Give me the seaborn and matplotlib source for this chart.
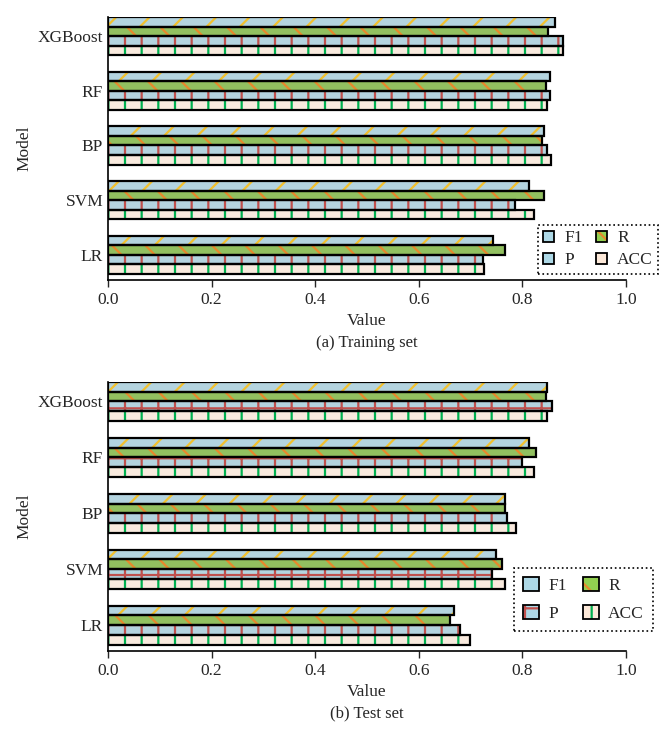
import pandas as pd
import matplotlib
matplotlib.use("Agg")
import matplotlib.pyplot as plt
from matplotlib.patches import Patch
from matplotlib.legend_handler import HandlerTuple
import seaborn as sns

# model results
models = ["XGBoost", "RF", "BP", "SVM", "LR"]
metrics = ["F1", "R", "P", "ACC"]

train_f1 = [0.862, 0.853, 0.841, 0.813, 0.743]
train_r = [0.850, 0.846, 0.837, 0.841, 0.767]
train_p = [0.878, 0.853, 0.847, 0.786, 0.723]
train_acc = [0.878, 0.848, 0.855, 0.822, 0.726]

test_f1 = [0.847, 0.812, 0.767, 0.749, 0.667]
test_r = [0.845, 0.826, 0.766, 0.760, 0.660]
test_p = [0.858, 0.799, 0.770, 0.742, 0.679]
test_acc = [0.847, 0.822, 0.787, 0.766, 0.698]

face = {"F1": "#add8e6", "R": "#92d050", "P": "#add8e6", "ACC": "#fde9d9"}
hatch_col = {"F1": "#f2c12e", "R": "#e8892c", "P": "#c0504d", "ACC": "#00b050"}


def make_df(f1, r, p, acc):
    rows = []
    for name, vals in zip(metrics, [f1, r, p, acc]):
        for m, v in zip(models, vals):
            rows.append({"model": m, "metric": name, "value": v})
    return pd.DataFrame(rows)


def draw_panel(ax, df, hatches, caption_y, caption):
    sns.barplot(data=df, x="value", y="model", hue="metric", order=models,
                hue_order=metrics, orient="h", width=0.7, palette=face,
                errorbar=None, legend=False, ax=ax)
    n = len(ax.containers)
    for cont, m in zip(ax.containers[:n], metrics):
        for bar in cont:
            bar.set_hatch(hatches[m])
            bar.set_edgecolor(hatch_col[m])
            bar.set_linewidth(0)
    # black outlines on top
    sns.barplot(data=df, x="value", y="model", hue="metric", order=models,
                hue_order=metrics, orient="h", width=0.7,
                palette={m: "black" for m in metrics}, fill=False,
                linewidth=1.6, errorbar=None, legend=False, ax=ax)
    ax.set_xlim(0, 1.0)
    ax.set_ylim(4.46, -0.35)
    ax.set_xticks([0, 0.2, 0.4, 0.6, 0.8, 1.0])
    ax.set_xticklabels(["0.0", "0.2", "0.4", "0.6", "0.8", "1.0"])
    ax.tick_params(axis="x", direction="out", length=5, width=1, labelsize=12.5)
    ax.tick_params(axis="y", length=0, labelsize=12.5)
    ax.set_xlabel("Value", fontsize=12.5)
    ax.set_ylabel("Model", fontsize=12.5)
    for s in ["top", "right"]:
        ax.spines[s].set_visible(False)
    for s in ["left", "bottom"]:
        ax.spines[s].set_linewidth(1.2)
        ax.spines[s].set_color("black")
    fig.text(0.555, caption_y, caption, ha="center", va="center", fontsize=12)


def add_legend(ax, hatches, anchor, hsize, tpad, cspace, lspace, bpad):
    # column-major fill: F1, P in column one, R, ACC in column two
    order = ["F1", "P", "R", "ACC"]
    handles = []
    for m in order:
        h1 = Patch(facecolor=face[m], edgecolor=hatch_col[m], hatch=hatches[m], linewidth=0)
        h2 = Patch(facecolor="none", edgecolor="black", linewidth=1.3)
        handles.append((h1, h2))
    leg = ax.legend(handles, order, ncol=2, loc="upper left",
                    bbox_to_anchor=anchor, bbox_transform=fig.transFigure,
                    handler_map={tuple: HandlerTuple(ndivide=1, pad=0)},
                    handlelength=hsize, handleheight=hsize, handletextpad=tpad,
                    columnspacing=cspace, labelspacing=lspace, borderpad=bpad,
                    fontsize=12.5, fancybox=False, framealpha=1, borderaxespad=0)
    fr = leg.get_frame()
    fr.set_edgecolor("black")
    fr.set_linestyle(":")
    fr.set_linewidth(1.2)


sns.set_style("ticks")
plt.rcParams["font.family"] = ["Liberation Serif", "DejaVu Serif"]
plt.rcParams["hatch.linewidth"] = 1.6

fig = plt.figure(figsize=(6.61, 7.31), dpi=100)
ax1 = fig.add_axes([0.1634, 0.617, 0.7837, 0.3598])
ax2 = fig.add_axes([0.1634, 0.1094, 0.7837, 0.3684])

train_h = {"F1": "/", "R": "\\", "P": "|", "ACC": "|"}
test_h = {"F1": "/", "R": "\\", "P": "+", "ACC": "|"}

draw_panel(ax1, make_df(train_f1, train_r, train_p, train_acc), train_h, 0.531, "(a) Training set")
draw_panel(ax2, make_df(test_f1, test_r, test_p, test_acc), test_h, 0.0246, "(b) Test set")

add_legend(ax1, train_h, (0.814, 0.692), 0.6, 0.6, 0.8, 0.35, 0.3)
add_legend(ax2, test_h, (0.778, 0.223), 0.9, 0.55, 0.95, 0.62, 0.5)

fig.savefig("out.png", dpi=100)
